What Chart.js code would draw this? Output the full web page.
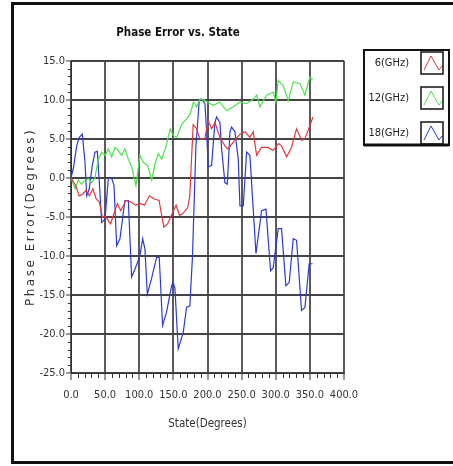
<!DOCTYPE html>
<html>
<head>
<meta charset="utf-8">
<script src="https://cdn.jsdelivr.net/npm/chart.js@4"></script>
<style>
html, body { margin: 0; padding: 0; background: #fff; }
</style>
</head>
<body>
<canvas id="chart" width="453" height="466"></canvas>
<script>
// Data (state in degrees, phase error in degrees)
const chartTitle = 'Phase Error vs. State';
const xTitle = 'State(Degrees)';
const yTitle = 'Phase Error(Degrees)';
const seriesLabels = ['6(GHz)', '12(GHz)', '18(GHz)'];
const seriesColors = ['#e4383c', '#4ee04a', '#2c3ad6'];

const redState = [0, 7, 12, 17, 22, 27, 32, 37, 41.5, 46, 51, 58, 63.5, 68, 73, 80.5, 88, 95, 102.5, 107.5,
    115, 122, 129, 136, 141.5, 149, 154, 159, 163.5, 171, 174, 179, 184, 189, 196, 201, 206, 211, 218, 225.5,
    230, 238, 247.5, 255, 262, 267, 272, 279, 289, 296, 304, 308.5, 316, 323, 330.5, 338, 342.5, 347.5, 354.5];
const redError = [0, -1.0, -2.3, -2.1, -1.6, -2.3, -1.4, -2.7, -3.1, -5.0, -5.0, -5.9, -4.4, -3.3, -4.2, -2.9, -3.1, -3.5, -3.3, -3.5,
    -2.3, -2.7, -2.9, -6.3, -5.9, -4.4, -3.5, -4.8, -4.6, -3.8, -2.3, 6.8, 6.3, 5.0, 5.0, 7.3, 6.3, 7.1, 5.2, 4.1,
    3.7, 4.6, 5.6, 5.9, 5.2, 5.9, 2.9, 3.9, 3.9, 3.5, 4.4, 4.1, 2.7, 3.9, 6.3, 4.8, 5.0, 6.1, 7.8];

const greenState = [0, 6, 10.7, 15.6, 20.5, 25.4, 30.3, 35.2, 40, 45, 50, 54.7, 59.6, 64.5, 69.4, 74.2, 79, 84, 89, 95.2,
    101, 106, 112, 118.3, 123, 128, 133, 139.4, 145.3, 150.2, 155, 162.4, 169.7, 174.6, 179.5, 184, 189, 196, 208.5, 218,
    228, 237.8, 247.5, 257.3, 267, 272, 276.8, 286.6, 296.3, 300.2, 303.6, 311, 318.3, 325.6, 335.4, 342.7, 350, 354];
const greenError = [0, -1.4, -0.3, -0.8, -0.3, -0.1, -0.6, 0, 2.4, 3.3, 2.9, 3.7, 2.7, 3.9, 3.5, 2.9, 3.7, 2.4, 1.4, -1.0,
    2.9, 2.0, 1.6, -0.3, 1.8, 3.1, 2.4, 4.1, 6.3, 5.4, 5.2, 6.9, 7.6, 8.2, 9.7, 9.1, 10.1, 9.9, 9.3, 9.7,
    8.6, 9.1, 9.7, 9.5, 10.1, 10.6, 9.1, 10.6, 11.0, 9.7, 12.5, 11.8, 9.9, 12.3, 12.1, 10.6, 12.9, 12.6];

const blueState = [0, 3.4, 8.3, 12.2, 16.6, 20.5, 23, 26.8, 31.2, 35.1, 38.6, 41.5, 44.9, 49.8, 54.7, 59.5, 63, 66.9, 71.7, 79,
    84, 88.8, 93.7, 101, 105, 108.3, 111.8, 118, 125.4, 129.3, 134.2, 140, 147.4, 149.8, 152.3, 157.1, 164.5, 169.3, 174.2, 178,
    183, 188, 191.4, 196.3, 198.7, 201.1, 206, 210.9, 213.3, 218.2, 220.7, 225.5, 229, 232.9, 235.3, 240.2, 245.1, 247.5, 252.4, 257.3,
    262.1, 267, 271, 279.2, 285.6, 292.4, 296.3, 303.6, 308.5, 314.8, 319.7, 325.6, 330.5, 337.8, 342.7, 349, 354];
const blueError = [0, 1.2, 4.1, 5.2, 5.6, 2.0, -2.3, -1.4, 1.6, 3.3, 3.4, -0.6, -5.7, -5.3, -0.1, 0, -1.0, -8.7, -7.8, -2.9,
    -2.9, -12.7, -11.7, -10, -7.8, -9.1, -14.9, -12.9, -10.2, -10.2, -18.9, -17.2, -13.8, -13.4, -14.2, -21.9, -19.8, -16.6, -16.4, -10,
    4, 10, 10.1, 9.5, 5.9, 1.4, 1.6, 7.1, 7.8, 7.1, 3.7, -0.6, -0.8, 5.9, 6.5, 5.9, 2.4, -3.6, -3.6, 3.3,
    2.9, -4, -9.7, -4.2, -4.0, -11.9, -11.5, -6.5, -6.5, -13.8, -13.4, -7.8, -8.0, -17.0, -16.6, -11.0, -11.0];

const xMin = 0, xMax = 400, xStep = 50, xMinorStep = 10;
const yMin = -25, yMax = 15, yStep = 5, yMinorStep = 1;

const narrowFamily = '"DejaVu Sans Condensed", "Liberation Sans", sans-serif';
const tickFont = { family: narrowFamily, size: 11 };

function toPoints(xs, ys) {
    return xs.map((x, i) => ({ x: x, y: ys[i] }));
}

// White page with the black frame round it
const framePlugin = {
    id: 'frame',
    beforeDraw(chart) {
        const c = chart.ctx;
        c.save();
        c.fillStyle = '#fff';
        c.fillRect(0, 0, chart.width, chart.height);
        c.strokeStyle = '#111';
        c.lineWidth = 3;
        c.beginPath();
        c.moveTo(chart.width, 3.5);
        c.lineTo(12.5, 3.5);
        c.lineTo(12.5, 462.5);
        c.lineTo(chart.width, 462.5);
        c.stroke();
        c.restore();
    }
};

// Minor ticks, rotated y title and the boxed legend
const extrasPlugin = {
    id: 'extras',
    afterDraw(chart) {
        const c = chart.ctx;
        const xs = chart.scales.x, ys = chart.scales.y;
        const area = chart.chartArea;
        c.save();
        c.strokeStyle = '#333';
        c.lineWidth = 1;
        c.beginPath();
        for (let v = yMin; v <= yMax; v += yMinorStep) {
            if (v % yStep === 0) continue;
            const py = Math.round(ys.getPixelForValue(v)) + 0.5;
            c.moveTo(area.left - 3, py);
            c.lineTo(area.left, py);
        }
        for (let v = xMin; v <= xMax; v += xMinorStep) {
            if (v % xStep === 0) continue;
            const px = Math.round(xs.getPixelForValue(v)) + 0.5;
            c.moveTo(px, area.bottom);
            c.lineTo(px, area.bottom + 5);
        }
        c.stroke();

        // y axis title, spaced out like the original
        c.save();
        c.translate(31, (area.top + area.bottom) / 2);
        c.rotate(-Math.PI / 2);
        c.font = '12px "DejaVu Sans"';
        c.letterSpacing = '2.5px';
        c.fillStyle = '#333';
        c.textAlign = 'center';
        c.textBaseline = 'middle';
        c.fillText(yTitle, 0, 0);
        c.restore();

        // legend box
        const lx = 364, ly = 50, lw = 85, lh = 95;
        c.strokeStyle = '#111';
        c.lineWidth = 2;
        c.strokeRect(lx, ly, lw, lh);
        c.lineWidth = 3;
        c.beginPath();
        c.moveTo(lx, ly + lh);
        c.lineTo(lx + lw, ly + lh);
        c.stroke();
        c.font = '11px ' + narrowFamily;
        c.textAlign = 'right';
        c.textBaseline = 'middle';
        chart.data.datasets.forEach((ds, i) => {
            const cy = 63 + i * 35;
            c.fillStyle = '#222';
            c.fillText(ds.label, 409, cy);
            const bx = 421, by = cy - 11, bw = 22, bh = 22;
            c.strokeStyle = '#111';
            c.lineWidth = 1.5;
            c.strokeRect(bx, by, bw, bh);
            c.strokeStyle = ds.borderColor;
            c.lineWidth = 1;
            c.beginPath();
            c.moveTo(bx + 3, by + bh - 4);
            c.lineTo(bx + 10, by + 4);
            c.lineTo(bx + 18, by + bh - 4);
            c.lineTo(bx + 21, by + bh - 8);
            c.stroke();
        });
        c.restore();
    }
};

const ctx = document.getElementById('chart').getContext('2d');
const phaseChart = new Chart(ctx, {
    type: 'scatter',
    data: {
        datasets: [
            { label: seriesLabels[0], data: toPoints(redState, redError), borderColor: seriesColors[0] },
            { label: seriesLabels[1], data: toPoints(greenState, greenError), borderColor: seriesColors[1] },
            { label: seriesLabels[2], data: toPoints(blueState, blueError), borderColor: seriesColors[2] }
        ].map(ds => Object.assign(ds, { showLine: true, pointRadius: 0, borderWidth: 1.2, tension: 0, backgroundColor: ds.borderColor }))
    },
    options: {
        responsive: false,
        animation: false,
        layout: { padding: { left: 12, right: 109, top: 26, bottom: 0 } },
        plugins: {
            legend: { display: false },
            tooltip: { enabled: false },
            title: {
                display: true,
                text: chartTitle,
                color: '#111',
                font: { family: narrowFamily, size: 11.5, weight: 'bold', lineHeight: 1.2 },
                padding: { top: 0, bottom: 21 }
            }
        },
        scales: {
            x: {
                type: 'linear',
                min: xMin,
                max: xMax,
                ticks: { stepSize: xStep, callback: v => v.toFixed(1), color: '#333', font: tickFont, padding: 9, maxRotation: 0, autoSkip: false },
                grid: { color: '#5a5a5a', lineWidth: 2, tickColor: '#333', tickWidth: 1, tickLength: 7 },
                border: { color: '#333', width: 1 },
                title: { display: true, text: xTitle, color: '#333', font: { family: narrowFamily, size: 11.5 }, padding: { top: 0, bottom: 35 } },
                afterFit: scale => { scale.height = 93; }
            },
            y: {
                min: yMin,
                max: yMax,
                ticks: { stepSize: yStep, callback: v => v.toFixed(1), color: '#333', font: tickFont, padding: 1 },
                grid: { color: '#444', lineWidth: 2, tickColor: '#333', tickWidth: 1, tickLength: 5 },
                border: { color: '#333', width: 1 },
                afterFit: scale => { scale.width = 59; }
            }
        }
    },
    plugins: [framePlugin, extrasPlugin]
});
</script>
</body>
</html>
